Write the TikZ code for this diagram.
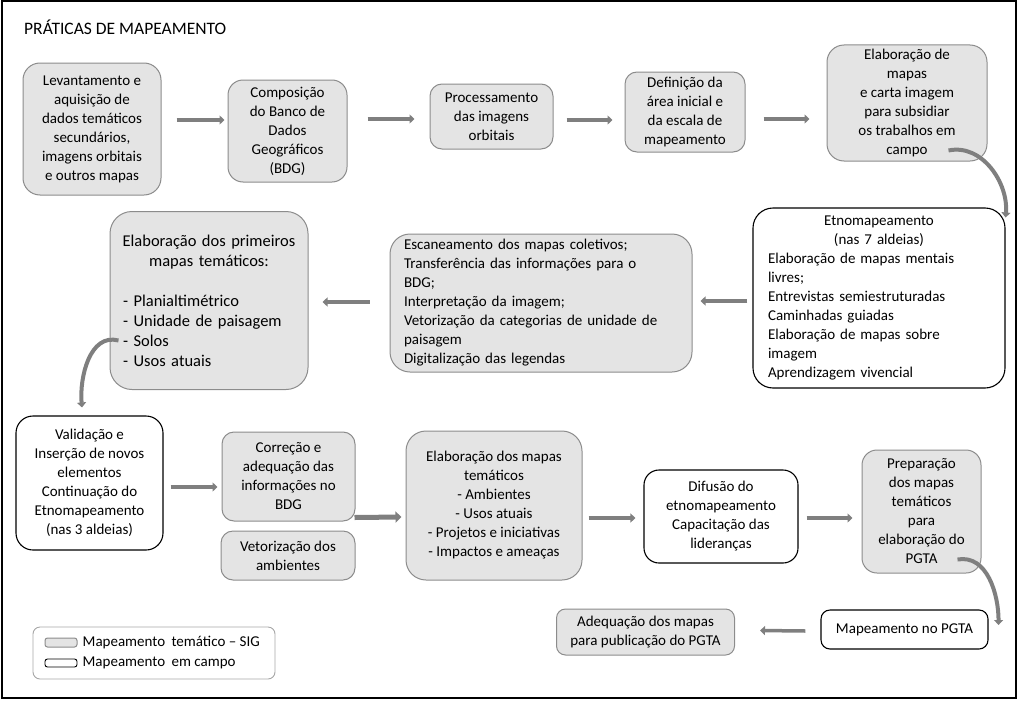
\documentclass[tikz,border=0pt]{standalone}
\usepackage{fontspec}
\setmainfont{Carlito}
\usepackage{xcolor}
\usepackage{tikz}
\usetikzlibrary{arrows.meta, positioning}
\definecolor{sigfill}{HTML}{E4E4E4}
\definecolor{sigdraw}{HTML}{8C8C8C}
\definecolor{arrowgray}{HTML}{7F7F7F}
\tikzset{
  sigblock/.style={rectangle, rounded corners=12pt, draw=sigdraw, fill=sigfill,
                   line width=1pt, align=center},
  fieldblock/.style={rectangle, rounded corners=12pt, draw=black, fill=white,
                     line width=1.1pt, align=center},
  arrow/.style={-{Triangle[length=5pt,width=9pt]}, line width=3.5pt, draw=arrowgray},
  bigarrow/.style={-{Triangle[length=6pt,width=11pt]}, line width=5pt, draw=arrowgray},
  curvearrow/.style={arrow, line width=4pt},
  legendbox/.style={rectangle, rounded corners=7pt, draw=black!35, line width=0.9pt},
}

\begin{document}
\begin{tikzpicture}[x=1pt, y=-1pt, font=\fontsize{15}{19}\selectfont]

  \useasboundingbox (0,0) rectangle (1024,709);
  \draw[line width=1.2pt] (2,1) rectangle (1016,698);

  \node[anchor=base west, inner sep=0pt, font=\fontsize{17.5}{20}\selectfont] (title) at (24,35) {PRÁTICAS DE MAPEAMENTO};

  %% ---- FIRST ROW ----
  \node[sigblock, rounded corners=17pt, minimum width=138pt, minimum height=132pt] (levant) at (92,129)
    {Levantamento e\\aquisição de\\dados temáticos\\secundários,\\imagens orbitais\\e outros mapas};
  \node[sigblock, rounded corners=15pt, minimum width=119pt, minimum height=102pt] (bdg) at (287.5,131)
    {Composição\\do Banco de\\Dados\\Geográficos\\(BDG)};
  \node[sigblock, minimum width=123pt, minimum height=65pt] (process) at (491.5,116.5)
    {Processamento\\das imagens\\orbitais};
  \node[sigblock, minimum width=120pt, minimum height=80pt] (area) at (685,112)
    {Definição da\\área inicial e\\da escala de\\mapeamento};
  \node[sigblock, rounded corners=17pt, minimum width=160pt, minimum height=116pt] (carta) at (907,103)
    {Elaboração de\\mapas\\e carta imagem\\para subsidiar\\os trabalhos em\\campo};

  \draw[arrow] ([xshift=15pt,yshift=9pt]levant.east) -- ([xshift=-3pt,yshift=11pt]bdg.west);
  \draw[arrow] ([xshift=20pt,yshift=12pt]bdg.east) -- ([xshift=-15pt,yshift=-2.5pt]process.west);
  \draw[arrow] ([xshift=13pt,yshift=-3.5pt]process.east) -- ([xshift=-12pt,yshift=-8pt]area.west);
  \draw[arrow] ([xshift=18pt,yshift=-7pt]area.east) -- ([xshift=-17pt,yshift=-16pt]carta.west);

  %% ---- SECOND ROW ----
  \node[fieldblock, rounded corners=20pt, text width=222pt, align=left, minimum width=252pt, minimum height=180pt] (etno) at (879,298)
    {{\centering Etnomapeamento\\(nas 7 aldeias)\par}Elaboração de mapas mentais\\livres;\\Entrevistas semiestruturadas\\Caminhadas guiadas\\Elaboração de mapas sobre\\imagem\\Aprendizagem vivencial};
  \node[sigblock, rounded corners=20pt, text width=274pt, align=left, minimum width=302pt, minimum height=138pt] (scan) at (541,303)
    {Escaneamento dos mapas coletivos;\\Transferência das informações para o\\BDG;\\Interpretação da imagem;\\Vetorização da categorias de unidade de\\paisagem\\Digitalização das legendas};
  \node[sigblock, rounded corners=22pt, text width=186pt, align=left, minimum width=198pt, minimum height=178pt,
        font=\fontsize{16.5}{20}\selectfont] (primeiros) at (209,300.5)
    {{\centering Elaboração dos primeiros\\mapas temáticos:\par}\mbox{}\par\leftskip=7pt\relax
     - Planialtimétrico\\- Unidade de paisagem\\- Solos\\- Usos atuais\par};

  \draw[curvearrow] ([xshift=-39pt,yshift=11pt]carta.south east) to[out=12, in=85] ([yshift=-10pt]etno.north east);
  \draw[arrow] ([xshift=-5pt,yshift=-3pt]etno.west) -- ([xshift=8pt,yshift=2pt]scan.east);
  \draw[arrow] ([xshift=-20pt,yshift=1pt]scan.west) -- ([xshift=14pt,yshift=-1.5pt]primeiros.east);

  %% ---- THIRD ROW ----
  \node[fieldblock, rounded corners=17pt, minimum width=147pt, minimum height=134pt] (valid) at (89.5,483)
    {Validação e\\Inserção de novos\\elementos\\Continuação do\\Etnomapeamento\\(nas 3 aldeias)};
  \node[sigblock, minimum width=133pt, minimum height=89pt] (correcao) at (288.5,476.5)
    {Correção e\\adequação das\\informações no\\BDG};
  \node[sigblock, minimum width=134pt, minimum height=49pt] (ambientes) at (288,555.5)
    {Vetorização dos\\ambientes};
  \node[sigblock, rounded corners=20pt, minimum width=176pt, minimum height=149pt] (tematicos) at (494,505.5)
    {Elaboração dos mapas\\temáticos\\- Ambientes\\- Usos atuais\\- Projetos e iniciativas\\- Impactos e ameaças};
  \node[fieldblock, rounded corners=15pt, minimum width=154pt, minimum height=93pt] (difusao) at (721,516.5)
    {Difusão do\\etnomapeamento\\Capacitação das\\lideranças};
  \node[sigblock, rounded corners=15pt, minimum width=119pt, minimum height=123pt] (prep) at (921.5,511.5)
    {Preparação\\dos mapas\\temáticos\\para\\elaboração do\\PGTA};

  \draw[curvearrow] ([xshift=9pt,yshift=-40pt]primeiros.west) to[out=165, in=95] ([xshift=-7.5pt,yshift=8pt]valid.north);
  \draw[arrow] ([xshift=7pt,yshift=-4pt]valid.east) -- ([xshift=-4pt,yshift=-10.5pt]correcao.west);
  \draw[bigarrow] ([xshift=-1pt,yshift=4pt]correcao.south east) -- ([xshift=-4pt,yshift=-11.5pt]tematicos.west);
  \draw[arrow] ([xshift=6pt,yshift=-12.5pt]tematicos.east) -- ([xshift=-8pt,yshift=-1.5pt]difusao.west);
  \draw[arrow] ([xshift=8pt,yshift=-1.5pt]difusao.east) -- ([xshift=-9pt,yshift=-6.5pt]prep.west);

  %% ---- FOURTH ROW ----
  \node[fieldblock, rounded corners=9pt, minimum width=167pt, minimum height=39pt] (pgta) at (904.5,629.5)
    {Mapeamento no PGTA};
  \node[sigblock, rounded corners=9pt, minimum width=178pt, minimum height=46pt] (publica) at (645.5,632)
    {Adequação dos mapas\\para publicação do PGTA};

  \draw[curvearrow] ([xshift=-24pt,yshift=14pt]prep.south east) to[out=10, in=90] ([xshift=10pt,yshift=4.5pt]pgta.east);
  \draw[arrow] ([xshift=-15pt,yshift=-1.5pt]pgta.west) -- ([xshift=25pt,yshift=1.5pt]publica.east);

  %% ---- LEGEND ----
  \node[legendbox, minimum width=242pt, minimum height=52pt] (legend) at (154,653) {};
  \node[sigblock, rounded corners=2.5pt, minimum width=32pt, minimum height=9pt, inner sep=0pt] (swsig) at (61,642.5) {};
  \node[fieldblock, rounded corners=2.5pt, line width=0.9pt, minimum width=32pt, minimum height=8pt, inner sep=0pt] (swcampo) at (61,663) {};
  \node[right=5pt of swsig, inner sep=0pt, font=\fontsize{15}{18}\selectfont] (lsig) {Mapeamento\hspace{3pt} temático – SIG};
  \node[right=5pt of swcampo, inner sep=0pt, font=\fontsize{15}{18}\selectfont] (lcampo) {Mapeamento\hspace{3pt} em campo};

\end{tikzpicture}
\end{document}
